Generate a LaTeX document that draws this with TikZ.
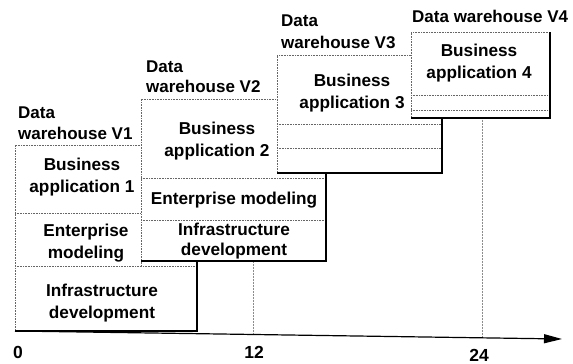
\documentclass[tikz,border=0pt]{standalone}
\usepackage{fontspec}
\setmainfont{Liberation Sans}
\usetikzlibrary{arrows.meta}
\begin{document}
\begin{tikzpicture}[x=1pt,y=-1pt,
  thin rule/.style={draw=black!60, line width=0.6pt, densely dotted},
  heavy rule/.style={draw=black, line width=2.4pt},
  grid rule/.style={draw=black!45, line width=0.5pt, densely dotted},
  lbl/.style={font=\fontsize{17.2}{22}\selectfont\bfseries, align=center, inner sep=0pt},
  tight lbl/.style={lbl, font=\fontsize{17.2}{19.5}\selectfont\bfseries},
  title/.style={font=\fontsize{17}{20}\selectfont\bfseries, anchor=base west, inner sep=0pt},
  tick/.style={font=\fontsize{17.5}{20}\selectfont\bfseries, inner sep=0pt}]
\useasboundingbox (0,0) rectangle (573,364);

% month grid lines
\draw[grid rule] (253,262) -- (253,333);
\draw[grid rule] (482,118) -- (482,337);

% time axis
\coordinate (ax0) at (15,331);
\coordinate (ax1) at (562,339);
\draw[line width=1.2pt, -{Triangle[length=18pt,width=9pt]}] (ax0) -- (ax1);

% version 1
\path[fill=white] (15,145) -| (141,266) -| (197,331) -| cycle;
\draw[thin rule] (15,331) -- (15,145) -- (141,145) -- (141,266);
\draw[thin rule] (15,213) -- (141,213);
\draw[thin rule] (15,266) -- (197,266);
\draw[heavy rule] (15,331) -- (197,331) -- (197,261);

% version 2
\path[fill=white] (141,99) rectangle (326,261);
\draw[thin rule] (141,261) -- (141,99) -- (326,99);
\draw[thin rule] (141,178) -- (326,178);
\draw[thin rule] (141,220) -- (326,220);
\draw[heavy rule] (141,261) -- (326,261) -- (326,99);

% version 3
\path[fill=white] (277,55) rectangle (442,173);
\draw[thin rule] (277,173) -- (277,55) -- (442,55);
\draw[thin rule] (277,124) -- (442,124);
\draw[thin rule] (277,148) -- (442,148);
\draw[heavy rule] (277,173) -- (442,173) -- (442,55);

% version 4
\path[fill=white] (411,32) rectangle (550,118);
\draw[thin rule] (411,118) -- (411,32) -- (550,32);
\draw[thin rule] (411,95) -- (550,95);
\draw[thin rule] (411,110) -- (550,110);
\draw[heavy rule] (411,118) -- (550,118) -- (550,32);

% row labels
\node[lbl] (ba1) at (82,177) {Business\\application 1};
\node[lbl] (em1) at (86,243) {Enterprise\\modeling};
\node[lbl] (id1) at (102,303) {Infrastructure\\development};
\node[lbl] (ba2) at (217,141) {Business\\application 2};
\node[lbl] (em2) at (234,200) {Enterprise modeling};
\node[tight lbl] (id2) at (234,241) {Infrastructure\\development};
\node[lbl] (ba3) at (352,93) {Business\\application 3};
\node[lbl] (ba4) at (479,63) {Business\\application 4};

% version titles
\node[title] (v1a) at (18,118) {Data};
\node[title] (v1b) at (18,139) {warehouse V1};
\node[title] (v2a) at (146,72) {Data};
\node[title] (v2b) at (146,92) {warehouse V2};
\node[title] (v3a) at (281,27) {Data};
\node[title] (v3b) at (281,48) {warehouse V3};
\node[title] (v4) at (412,22) {Data warehouse V4};

% axis ticks
\node[tick] (m0) at (18,352) {0};
\node[tick] (m12) at (254,352) {12};
\node[tick] (m24) at (479,355) {24};
\end{tikzpicture}
\end{document}
